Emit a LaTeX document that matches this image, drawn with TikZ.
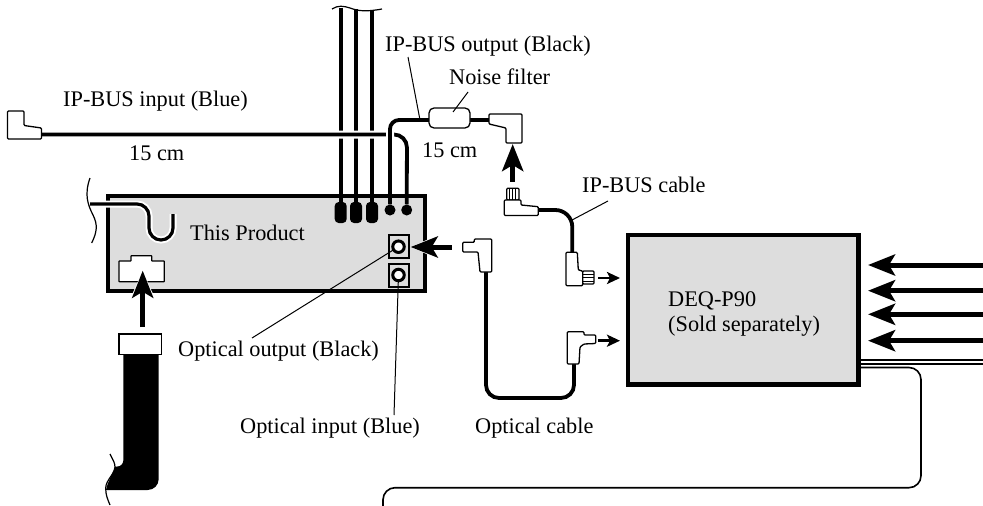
\documentclass[tikz,border=0pt]{standalone}
\usepackage{fontspec}
\setmainfont{Liberation Serif}
\usepackage{tikz}
\usetikzlibrary{arrows.meta, positioning, calc}
\definecolor{bodygray}{HTML}{DDDDDD}

\begin{document}
\begin{tikzpicture}[
  x=1pt, y=-1pt,
  every node/.style={font=\fontsize{22.3}{26}\selectfont},
  label/.style={inner sep=0pt, anchor=base west},
  unitbox/.style={rectangle, draw=black, fill=bodygray, inner sep=0pt, anchor=north west},
  plug/.style={draw=black, fill=white, line width=1.3pt, rounded corners=1pt, line join=round},
  cable/.style={draw=black, line width=3.8pt, rounded corners=13pt},
  halo/.style={draw=white, line width=8pt, rounded corners=13pt},
  thinwire/.style={draw=black, line width=1.6pt},
  leader/.style={draw=black, line width=1pt},
  wave/.style={draw=black, line width=1.2pt},
  bigarrow/.style={line width=5pt, -{Stealth[length=27pt, width=21pt, inset=6pt]}, preaction={draw=white, line width=9pt, -{Stealth[length=31pt, width=27pt, inset=6pt]}}},
  plainarrow/.style={line width=5pt, -{Stealth[length=27pt, width=21pt, inset=6pt]}},
  smallarrow/.style={line width=2.5pt, -{Stealth[length=13pt, width=12pt, inset=3pt]}},
  lead/.style={rectangle, rounded corners=4pt, fill=black, inner sep=0pt, minimum width=12pt, minimum height=21pt},
  pin/.style={circle, fill=black, inner sep=0pt, minimum size=11pt},
  jack/.style={rectangle, draw=black, fill=bodygray, line width=2pt, inner sep=0pt, minimum width=20pt, minimum height=23pt},
  eyelet/.style={circle, draw=black, fill=white, line width=3pt, inner sep=0pt, minimum size=11.5pt},
]
\useasboundingbox (0,0) rectangle (983,506);

% Units
\node[unitbox, line width=4pt, minimum width=317pt, minimum height=95.5pt] (product) at (105.5,193.5) {};
\node[unitbox, line width=4.7pt, minimum width=230.6pt, minimum height=149.5pt] (deq) at (625.7,232.7) {};

% Anchors of the cables
\coordinate (inend) at (42,134.5);
\coordinate (outfilter) at (429,120);
\coordinate (filterplug) at (489,120);
\coordinate (ipupper) at (538,210);
\coordinate (iplower) at (572.3,252.5);
\coordinate (optupper) at (486,272);
\coordinate (optlower) at (574,364);
\coordinate (wireA) at (340.7,8);
\coordinate (wireB) at (356,9);
\coordinate (wireC) at (372,10);
\coordinate (leftstart) at (90,204);
\coordinate (leftend) at (173,214);
\coordinate (haloA) at (390,165);
\coordinate (haloB) at (407,165);

% Leads on the product
\node[lead] (leadA) at (340.7,212.5) {};
\node[lead] (leadB) at (356,212.5) {};
\node[lead] (leadC) at (372,212.5) {};
\node[pin] (pinA) at (390,210) {};
\node[pin] (pinB) at (406.7,210) {};
\node[jack] (jackout) at (398.5,246.7) {};
\node[jack] (jackin) at (398.5,275) {};

% Wires from above
\draw[cable] (wireA) -- (leadA);
\draw[cable] (wireB) -- (leadB);
\draw[cable] (wireC) -- (leadC);
\draw[wave] (332,9) .. controls (338,5) and (344,6) .. (350,8) .. controls (358,11) and (366,12) .. (382,9);

% IP-BUS input and output
\draw[halo] (inend) -- (407,134.5) -- (haloB);
\draw[cable] (inend) -- (407,134.5) -- (pinB);
\draw[halo, rounded corners=9pt] (haloA) -- (390,120) -- (outfilter);
\draw[cable, rounded corners=9pt] (pinA) -- (390,120) -- (outfilter);
\draw[cable] (outfilter) -- (filterplug);
\node[draw=black, fill=white, line width=1.3pt, rounded corners=5pt, minimum width=41pt, minimum height=20pt, inner sep=0pt] (filter) at (449.5,118) {};
\draw[plug] (7.5,111) -- (24,111) -- (24,125.5) -- (41.5,128) -- (41.5,139) -- (7.5,139) -- cycle;
\draw[plug] (489,114) -- (522,114) -- (522,143) -- (506,143) -- (506,128) -- (489,124) -- cycle;

% IP-BUS cable
\draw[cable, rounded corners=17pt] (ipupper) -- (572.3,210) -- (iplower);
\draw[plug, fill=white] (506.7,188.3) rectangle (519,200);
\foreach \xpos in {509.5,512.5,515.5} {
  \draw[line width=0.6pt] (\xpos,188.3) -- (\xpos,200);
}
\draw[plug] (504.3,200) -- (521,200) -- (521,205) -- (538.3,206.7) -- (538.3,215.5) -- (504.3,215.5) -- cycle;
\draw[plug] (566,252.3) -- (577.3,252.3) -- (578.3,270) -- (582.7,271) -- (582.7,285.7) -- (566,285.7) -- cycle;
\draw[plug, fill=white] (582.7,271) rectangle (594,284);
\foreach \ypos in {274,277.5,281} {
  \draw[line width=0.6pt] (582.7,\ypos) -- (594,\ypos);
}

% Optical cable
\draw[cable] (optupper) -- (486,398) -- (574,398) -- (optlower);
\draw[plug] (462.7,242.3) -- (474.3,242.3) -- (474.3,239) -- (491.7,239) -- (491.7,272) -- (480,272) -- (478,252) -- (462.7,252) -- cycle;
\draw[plug] (567.3,331.7) -- (584,331.7) -- (584,335) -- (595.7,335) -- (595.7,343.5) -- (584,344) -- (580,347) -- (579,364) -- (567.3,364) -- cycle;

% Left cable and connector
\draw[draw=white, line width=7pt, rounded corners=12pt] (leftstart) -- (149,204) -- (149,240) -- (173,240) -- (leftend);
\draw[line width=3.2pt, rounded corners=12pt] (leftstart) -- (149,204) -- (149,240) -- (173,240) -- (leftend);
\draw[wave] (90,178) .. controls (84,195) and (88,205) .. (93,215) .. controls (98,225) and (97,232) .. (91.7,243);
\draw[plug, rounded corners=0.5pt] (119,261) -- (131,261) -- (131,255.7) -- (151.7,255.7) -- (151.7,261) -- (164.3,261) -- (164.3,281.7) -- (119,281.7) -- cycle;

% Flat cable
\fill[black] (123.3,350) -- (158.7,350) [rounded corners=11pt] -- (158.7,490) [sharp corners] -- (106,490) .. controls (108,480) and (113,475) .. (115,466.5) [rounded corners=6pt] -- (123.3,466.5) [sharp corners] -- cycle;
\node[draw=black, fill=white, line width=1.3pt, inner sep=0pt, minimum width=42.3pt, minimum height=20.3pt] (flatplug) at (140.2,344.2) {};
\draw[wave] (110,454) .. controls (113,460) and (115,463) .. (115,467) .. controls (114,475) and (106,480) .. (105.7,488) .. controls (105.5,495) and (108,500) .. (110,505);

% Arrows
\draw[bigarrow] (142.7,327) -- (142.7,270.7);
\draw[bigarrow] (451.7,247) -- (410.7,247);
\draw[plainarrow] (512.7,181.7) -- (512.7,144);
\draw[smallarrow] (598.3,278) -- (620,278);
\draw[smallarrow] (598.3,340.7) -- (620,340.7);
\foreach \ypos in {265,290.7,314.3,340.7} {
  \draw[plainarrow] (983,\ypos) -- (868,\ypos);
}

% Wires out of DEQ-P90
\draw[thinwire] (861,360) -- (983,360);
\draw[thinwire] (861,364) -- (983,364);
\draw[thinwire, rounded corners=12pt] (861,367.5) -- (921,367.5) -- (921,487.7) -- (383,487.7) -- (383,506);

% Texts
\node[label] (inlabel) at (63,106) {IP-BUS input (Blue)};
\node[label] (inlength) at (129,160) {15 cm};
\node[label] (outlabel) at (385,51.7) {IP-BUS output (Black)};
\node[label] (filterlabel) at (449,84.3) {Noise filter};
\node[label] (outlength) at (422,157.3) {15 cm};
\node[label] (productlabel) at (190,240.7) {This Product};
\node[label] (cablelabel) at (582,192.7) {IP-BUS cable};
\node[label] (optoutlabel) at (178,356.7) {Optical output (Black)};
\node[label] (optinlabel) at (240,433) {Optical input (Blue)};
\node[label] (optcablelabel) at (475,433) {Optical cable};
\node[label] (deqlabel) at (668,306.7) {DEQ-P90};
\node[label] (soldlabel) at (668,331.7) {(Sold separately)};

% Leaders and eyelets
\draw[leader] (408,57) -- (420,120);
\draw[leader] (468,92) -- (453,112);
\draw[leader] (608,201) -- (572,220);
\draw[leader] (jackout.center) -- (252,338);
\draw[leader] (jackin.center) -- (394,415);
\node[eyelet] (eyeout) at (jackout.center) {};
\node[eyelet] (eyein) at (jackin.center) {};

\end{tikzpicture}
\end{document}
